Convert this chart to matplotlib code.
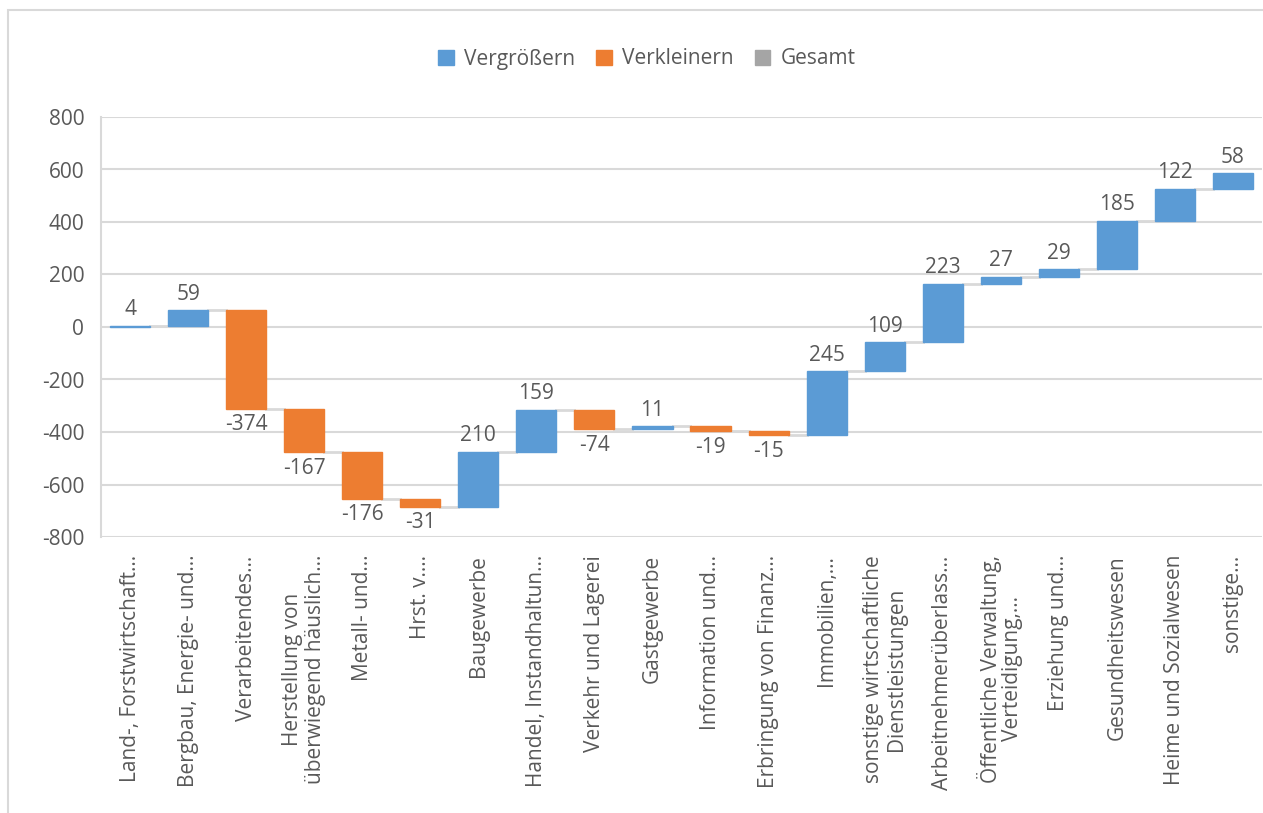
import matplotlib.pyplot as plt
from matplotlib.patches import Patch, Rectangle
from matplotlib.textpath import TextPath
from matplotlib.font_manager import FontProperties
import numpy as np

plt.rcParams['font.family'] = ['Open Sans', 'DejaVu Sans']
plt.rcParams['axes.unicode_minus'] = False

categories = ['Land-, Forstwirtschaft...', 'Bergbau, Energie- und...', 'Verarbeitendes...',
              'Herstellung von\nüberwiegend häuslich...', 'Metall- und...', 'Hrst. v....',
              'Baugewerbe', 'Handel, Instandhaltun...', 'Verkehr und Lagerei', 'Gastgewerbe',
              'Information und...', 'Erbringung von Finanz...', 'Immobilien,...',
              'sonstige wirtschaftliche\nDienstleistungen', 'Arbeitnehmerüberlass...',
              'Öffentliche Verwaltung,\nVerteidigung,...', 'Erziehung und...',
              'Gesundheitswesen', 'Heime und Sozialwesen', 'sonstige...']
changes = [4, 59, -374, -167, -176, -31, 210, 159, -74, 11, -19, -15, 245, 109, 223, 27, 29, 185, 122, 58]

blue = '#5B9BD5'
orange = '#ED7D31'
grey = '#A5A5A5'
txt = '#595959'
gridc = '#D9D9D9'

vals = np.array(changes)
ends = np.cumsum(vals)
starts = ends - vals
x = np.arange(len(vals))
width = 0.69

fig = plt.figure(figsize=(12.63, 8.13), dpi=100)
ax = fig.add_axes([101/1263, 1-537/813, 1161/1263, 420/813])

colors = [blue if v >= 0 else orange for v in vals]
ax.bar(x, vals, bottom=starts, width=width, color=colors, edgecolor=colors, linewidth=1, zorder=3)

# connector lines
for i in range(len(vals)-1):
    ax.plot([x[i] + width/2, x[i+1] - width/2], [ends[i], ends[i]], color=gridc, lw=2, zorder=2)

for i, v in enumerate(vals):
    if v >= 0:
        ax.annotate(str(v), (x[i], ends[i]), xytext=(0, 4), textcoords='offset points',
                    ha='center', va='bottom', fontsize=15, color=txt, zorder=4)
    else:
        ax.annotate(str(v), (x[i], ends[i]), xytext=(0, -4), textcoords='offset points',
                    ha='center', va='top', fontsize=15, color=txt, zorder=4)

ax.set_xlim(-0.5, len(vals) - 0.5)
ax.set_ylim(-800, 800)
ax.set_yticks(np.arange(-800, 801, 200))
ax.yaxis.grid(True, color=gridc, lw=1.5, zorder=0)
ax.set_axisbelow(True)
for s in ['top', 'right', 'bottom']:
    ax.spines[s].set_visible(False)
ax.spines['left'].set_color(gridc)
ax.spines['left'].set_linewidth(1.5)
ax.tick_params(axis='y', length=0, pad=12, labelsize=15, labelcolor=txt)

# category labels: one text per line, all centred on the middle of the longest line
ax.set_xticks(x)
ax.set_xticklabels([])
ax.tick_params(axis='x', length=0)
fp = FontProperties(family='Open Sans', size=15)
for i, lab in enumerate(categories):
    lines = lab.split('\n')
    n = len(lines)
    lmax = max(TextPath((0, 0), ln, prop=fp).get_extents().width for ln in lines)
    for j, ln in enumerate(lines):
        dx = (j - (n - 1) / 2) * 16.5
        ax.annotate(ln, (x[i], 0), xycoords=('data', 'axes fraction'),
                    xytext=(dx, -14 - lmax / 2), textcoords='offset points',
                    rotation=90, ha='center', va='center', fontsize=15, color=txt)

handles = [Patch(color=blue, label='Vergrößern'), Patch(color=orange, label='Verkleinern'),
           Patch(color=grey, label='Gesamt')]
leg = fig.legend(handles=handles, loc='center', bbox_to_anchor=(647/1263, 1-59/813), ncol=3,
                 frameon=False, fontsize=15, handlelength=0.75, handleheight=0.75,
                 handletextpad=0.5, columnspacing=1.0)
for t in leg.get_texts():
    t.set_color(txt)

fig.patches.append(Rectangle((8/1263, -0.05), 1.0, 1.05 - 10/813, transform=fig.transFigure,
                             fill=False, edgecolor=gridc, lw=1.5))

plt.savefig('out.png', dpi=100)
